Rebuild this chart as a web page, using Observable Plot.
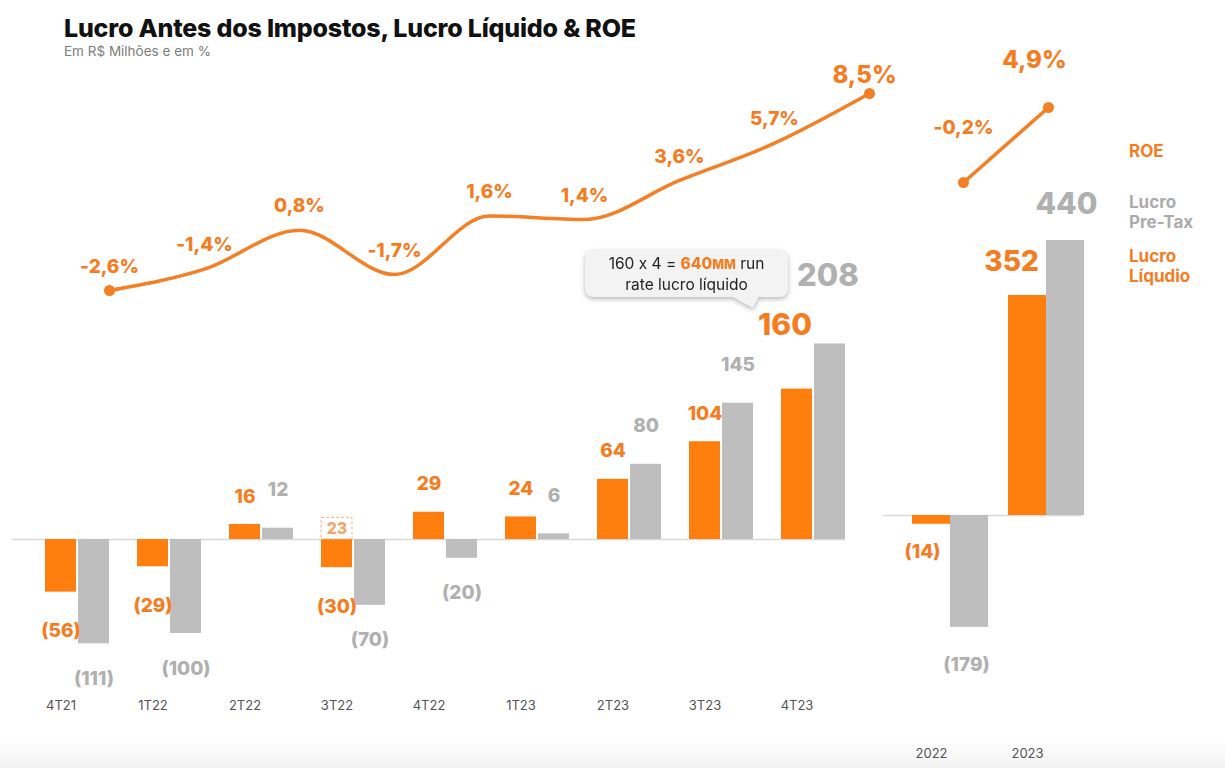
<!DOCTYPE html>
<html>
<head>
<meta charset="utf-8">
<script src="https://cdn.jsdelivr.net/npm/d3@7"></script>
<script src="https://cdn.jsdelivr.net/npm/@observablehq/plot@0.6"></script>
<style>
  html, body { margin: 0; padding: 0; background: #fff; }
  #wrap {
    position: relative; width: 1225px; height: 768px; overflow: hidden;
    font-family: Inter, "Noto Sans", sans-serif;
    font-feature-settings: "calt" 0;
    background: linear-gradient(to bottom, #fff 0, #fff 738px, #f3f3f3 768px);
  }
  .abs { position: absolute; }
  #title { left: 64px; top: 13px; font-size: 25px; font-weight: 800; color: #111; letter-spacing: -0.2px; white-space: nowrap; }
  #subtitle { left: 64px; top: 43px; font-size: 13.5px; color: #7d7d7d; white-space: nowrap; }
  .leg { left: 1129px; font-size: 17px; font-weight: 700; line-height: 20px; }
  #callout { left: 585px; top: 250px; width: 203px; height: 58px; filter: drop-shadow(0 2px 2.5px rgba(0,0,0,0.28)); }
  #callout .box { position: absolute; left: 0; top: 0; width: 203px; height: 47px; background: #f3f3f3; border-radius: 8px;
    font-size: 15.5px; color: #222; text-align: center; line-height: 20px; padding-top: 4px; box-sizing: border-box; white-space: nowrap; }
  #callout .tail { position: absolute; left: 146px; top: 46px; width: 28px; height: 12px; background: #f3f3f3;
    clip-path: polygon(0 0, 100% 0, 78% 100%); }
  .hl { color: #F57C1F; font-weight: 800; }
  .sc { font-size: 12.5px; }
</style>
</head>
<body>
<div id="wrap">
  <div id="title" class="abs">Lucro Antes dos Impostos, Lucro Líquido &amp; ROE</div>
  <div id="subtitle" class="abs">Em R$ Milhões e em %</div>
  <div class="abs leg" style="top:141px;color:#F57C1F;">ROE</div>
  <div class="abs leg" style="top:192px;color:#ABABAB;">Lucro<br>Pre-Tax</div>
  <div class="abs leg" style="top:246px;color:#F57C1F;">Lucro<br>Líqudio</div>
  <div id="callout" class="abs">
    <div class="box">160 x 4 = <span class="hl">640<span class="sc">MM</span></span> run<br>rate lucro líquido</div>
    <div class="tail"></div>
  </div>
</div>
<script>
// ---------- Data ----------
const quarters = ["4T21", "1T22", "2T22", "3T22", "4T22", "1T23", "2T23", "3T23", "4T23"];
const lucroLiquido = [-56, -29, 16, -30, 29, 24, 64, 104, 160];
const lucroPreTax = [-111, -100, 12, -70, -20, 6, 80, 145, 208];
const roeTrimestral = [-2.6, -1.4, 0.8, -1.7, 1.6, 1.4, 3.6, 5.7, 8.5];
const ajustadoQuarter = ["3T22"];
const ajustadoValor = [23];

const years = ["2022", "2023"];
const lucroLiquidoAnual = [-14, 352];
const lucroPreTaxAnual = [-179, 440];
const roeAnual = [-0.2, 4.9];

// ---------- Styles ----------
const ORANGE = "#FF7F0E", ORANGE_TXT = "#F57C1F", LINE = "#F47F24";
const GREY = "#BEBEBE", GREY_TXT = "#B0B0B0";
const FONT = "Inter, 'Noto Sans', sans-serif";
const baseStyle = { background: "transparent", fontFamily: FONT, overflow: "visible" };

const fmtVal = v => v < 0 ? `(${Math.abs(v)})` : `${v}`;
const fmtPct = v => (v < 0 ? "-" : "") + Math.abs(v).toFixed(1).replace(".", ",") + "%";

const qRows = quarters.map((q, i) => ({ q, liq: lucroLiquido[i], pre: lucroPreTax[i], roe: roeTrimestral[i], last: i === quarters.length - 1, first: i === 0 }));
const adjRows = ajustadoQuarter.map((q, i) => ({ q, v: ajustadoValor[i] }));
const yRows = years.map((y, i) => ({ y, liq: lucroLiquidoAnual[i], pre: lucroPreTaxAnual[i], roe: roeAnual[i], last: i === years.length - 1 }));

const wrap = document.getElementById("wrap");
function place(el, left, top) {
  el.style.position = "absolute";
  el.style.left = left + "px";
  el.style.top = top + "px";
  wrap.appendChild(el);
}

const txt = { fontWeight: 800, fontFamily: FONT };

// ---------- Quarterly bars ----------
const GDX = 33;
const qBars = Plot.plot({
  width: 900, height: 500,
  marginLeft: 12, marginRight: 55, marginTop: 0, marginBottom: 38.5,
  style: baseStyle,
  x: { type: "band", domain: quarters, paddingInner: 0.6644, paddingOuter: 0.341, align: 0.5, label: null },
  y: { domain: [0, 100], range: [309, 215], axis: null },
  marks: [
    Plot.ruleY([0], { stroke: "#d9d9d9", strokeWidth: 1.5 }),
    Plot.barY(qRows, { x: "q", y: "liq", fill: ORANGE }),
    Plot.barY(qRows, { x: "q", y: "pre", fill: GREY, dx: GDX }),
    Plot.barY(adjRows, { x: "q", y: "v", fill: "none", stroke: "#F6B184", strokeWidth: 1, strokeDasharray: "3,2" }),
    Plot.text(adjRows, { x: "q", y: d => d.v / 2, text: d => fmtVal(d.v), fill: "#F4A56E", fontSize: 16, ...txt }),
    // orange labels
    Plot.text(qRows.filter(d => !d.last && d.liq > 0), { x: "q", y: "liq", text: d => fmtVal(d.liq), dy: -28, fill: ORANGE_TXT, fontSize: 19, ...txt }),
    Plot.text(qRows.filter(d => d.liq < 0), { x: "q", y: "liq", text: d => fmtVal(d.liq), dy: 39, fill: ORANGE_TXT, fontSize: 19, ...txt }),
    Plot.text(qRows.filter(d => d.last), { x: "q", y: "liq", text: d => fmtVal(d.liq), dy: -64, dx: -12, fill: ORANGE_TXT, fontSize: 30, ...txt }),
    // grey labels
    Plot.text(qRows.filter(d => !d.last && d.pre > 0), { x: "q", y: "pre", text: d => fmtVal(d.pre), dy: -38, dx: GDX, fill: GREY_TXT, fontSize: 19, ...txt }),
    Plot.text(qRows.filter(d => d.pre < 0), { x: "q", y: "pre", text: d => fmtVal(d.pre), dy: 35, dx: GDX, fill: GREY_TXT, fontSize: 19, ...txt }),
    Plot.text(qRows.filter(d => d.last), { x: "q", y: "pre", text: d => fmtVal(d.pre), dy: -68, dx: GDX - 2, fill: GREY_TXT, fontSize: 31, ...txt }),
    Plot.axisX({ tickSize: 0, tickPadding: 9, fontSize: 13, fill: "#555", label: null })
  ]
});
place(qBars, 0, 230);

// ---------- Quarterly ROE ----------
const qRoe = Plot.plot({
  width: 920, height: 280, margin: 0,
  style: baseStyle,
  x: { type: "point", domain: quarters, range: [107, 870], padding: 0, axis: null },
  y: { domain: [-2.6, 8.5], range: [250, 53], axis: null },
  marks: [
    Plot.line(qRows, { x: "q", y: "roe", stroke: LINE, strokeWidth: 3.5, curve: "monotone-x" }),
    Plot.dot(qRows.filter(d => d.first || d.last), { x: "q", y: "roe", r: 5.5, fill: LINE, stroke: "none" }),
    Plot.text(qRows.filter(d => !d.last), { x: "q", y: "roe", text: d => fmtPct(d.roe), dy: -24, fill: ORANGE_TXT, fontSize: 19, ...txt }),
    Plot.text(qRows.filter(d => d.last), { x: "q", y: "roe", text: d => fmtPct(d.roe), dy: -18, dx: -5, fill: ORANGE_TXT, fontSize: 24, ...txt })
  ]
});
place(qRoe, 0, 40);

// ---------- Annual bars ----------
const ADX = 38;
const aBars = Plot.plot({
  width: 220, height: 538,
  marginLeft: 3, marginRight: 18, marginTop: 0, marginBottom: 28,
  style: baseStyle,
  x: { type: "band", domain: years, paddingInner: 0.608, paddingOuter: 0.33, align: 0.44, label: null },
  y: { domain: [0, 100], range: [285, 222.5], axis: null },
  marks: [
    Plot.ruleY([0], { stroke: "#d9d9d9", strokeWidth: 1.5 }),
    Plot.barY(yRows, { x: "y", y: "liq", fill: ORANGE }),
    Plot.barY(yRows, { x: "y", y: "pre", fill: GREY, dx: ADX }),
    Plot.text(yRows.filter(d => d.liq < 0), { x: "y", y: "liq", text: d => fmtVal(d.liq), dy: 28, dx: -9, fill: ORANGE_TXT, fontSize: 19, ...txt }),
    Plot.text(yRows.filter(d => d.pre < 0), { x: "y", y: "pre", text: d => fmtVal(d.pre), dy: 38, dx: ADX - 3, fill: GREY_TXT, fontSize: 19, ...txt }),
    Plot.text(yRows.filter(d => d.liq > 0), { x: "y", y: "liq", text: d => fmtVal(d.liq), dy: -33, dx: -16, fill: ORANGE_TXT, fontSize: 28, ...txt }),
    Plot.text(yRows.filter(d => d.pre > 0), { x: "y", y: "pre", text: d => fmtVal(d.pre), dy: -36, dx: ADX + 1, fill: GREY_TXT, fontSize: 30, ...txt }),
    Plot.axisX({ tickSize: 0, tickPadding: 8, fontSize: 13, fill: "#555", label: null })
  ]
});
place(aBars, 880, 230);

// ---------- Annual ROE ----------
const aRoe = Plot.plot({
  width: 220, height: 200, margin: 0,
  style: baseStyle,
  x: { type: "point", domain: years, range: [83, 168], padding: 0, axis: null },
  y: { domain: [-0.2, 4.9], range: [142, 67], axis: null },
  marks: [
    Plot.line(yRows, { x: "y", y: "roe", stroke: LINE, strokeWidth: 3.5 }),
    Plot.dot(yRows, { x: "y", y: "roe", r: 5.5, fill: LINE, stroke: "none" }),
    Plot.text(yRows.filter(d => !d.last), { x: "y", y: "roe", text: d => fmtPct(d.roe), dy: -55, fill: ORANGE_TXT, fontSize: 19, ...txt }),
    Plot.text(yRows.filter(d => d.last), { x: "y", y: "roe", text: d => fmtPct(d.roe), dy: -47, dx: -14, fill: ORANGE_TXT, fontSize: 24, ...txt })
  ]
});
place(aRoe, 880, 40);

// keep callout and legend on top
wrap.appendChild(document.getElementById("callout"));
</script>
</body>
</html>
